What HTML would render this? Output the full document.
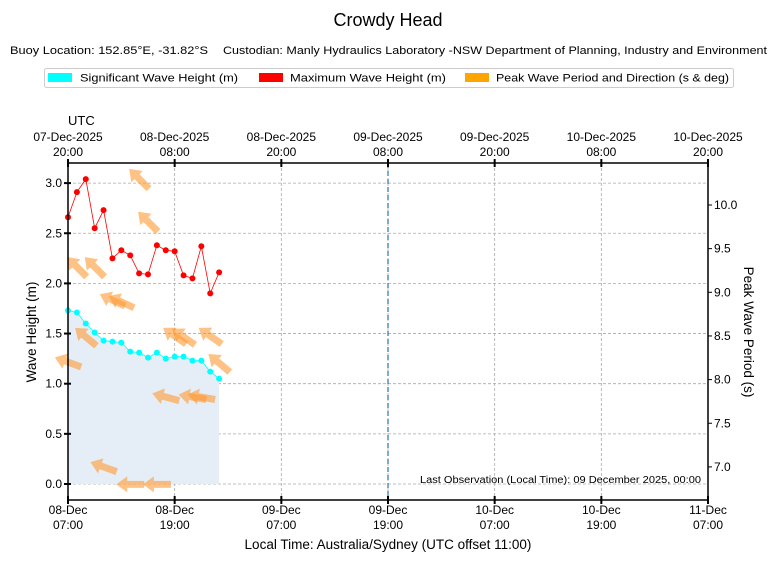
<!DOCTYPE html>
<html><head><meta charset="utf-8"><style>
html,body{margin:0;padding:0;background:#fff;}
svg{display:block;font-family:"Liberation Sans","DejaVu Sans",sans-serif;}
</style></head><body>
<svg id="chart" width="776" height="562" viewBox="0 0 776 562">
<text x="388" y="26" font-size="18" text-anchor="middle">Crowdy Head</text>
<text x="10" y="54" font-size="11" textLength="198" lengthAdjust="spacingAndGlyphs">Buoy Location: 152.85°E, -31.82°S</text>
<text x="223" y="54" font-size="11" textLength="544" lengthAdjust="spacingAndGlyphs">Custodian: Manly Hydraulics Laboratory -NSW Department of Planning, Industry and Environment</text>
<g>
<rect x="44.5" y="68.5" width="689" height="19" rx="2" fill="#fff" stroke="#ccc"/>
<g><rect x="48" y="73" width="24" height="9" fill="#00ffff"/><text x="80" y="81.5" font-size="11" textLength="158" lengthAdjust="spacingAndGlyphs">Significant Wave Height (m)</text></g>
<g><rect x="259" y="73" width="24" height="9" fill="#ff0000"/><text x="290" y="81.5" font-size="11" textLength="156" lengthAdjust="spacingAndGlyphs">Maximum Wave Height (m)</text></g>
<g><rect x="465" y="73" width="24" height="9" fill="#ffa500"/><text x="496" y="81.5" font-size="11" textLength="233" lengthAdjust="spacingAndGlyphs">Peak Wave Period and Direction (s &amp; deg)</text></g>
</g>
<text x="68" y="125" font-size="13">UTC</text>
<g id="grid"></g>
<g id="marks"></g>
<g id="axes"></g>
<text x="701" y="483" font-size="10" text-anchor="end" textLength="281" lengthAdjust="spacingAndGlyphs">Last Observation (Local Time): 09 December 2025, 00:00</text>
<text x="388" y="549" font-size="13.5" text-anchor="middle">Local Time: Australia/Sydney (UTC offset 11:00)</text>
<text transform="translate(36,332) rotate(-90)" font-size="13.5" text-anchor="middle">Wave Height (m)</text>
<text transform="translate(744,332) rotate(90)" font-size="13.5" text-anchor="middle">Peak Wave Period (s)</text>
</svg>
<script>
const hours = [0,1,2,3,4,5,6,7,8,9,10,11,12,13,14,15,16,17];
const hsValues = [1.73,1.71,1.60,1.51,1.43,1.42,1.41,1.32,1.31,1.26,1.31,1.25,1.27,1.27,1.23,1.23,1.12,1.05];
const hmaxValues = [2.66,2.91,3.04,2.55,2.73,2.25,2.33,2.28,2.10,2.09,2.38,2.33,2.32,2.08,2.05,2.37,1.90,2.11];
const tpValues = [8.20,9.29,8.49,9.29,7.00,8.91,8.89,6.80,10.30,9.81,6.80,7.80,8.50,8.49,7.80,7.80,8.50,8.19];
const dirValues = [110,135,130,135,110,115,115,90,135,135,90,105,125,125,100,100,125,130];
const heightTicks = [0,0.5,1.0,1.5,2.0,2.5,3.0];
const periodTicks = [7.0,7.5,8.0,8.5,9.0,9.5,10.0];
const xTickHours = [0,12,24,36,48,60,72];
const localLabels = [["08-Dec","07:00"],["08-Dec","19:00"],["09-Dec","07:00"],["09-Dec","19:00"],["10-Dec","07:00"],["10-Dec","19:00"],["11-Dec","07:00"]];
const utcLabels = [["07-Dec-2025","20:00"],["08-Dec-2025","08:00"],["08-Dec-2025","20:00"],["09-Dec-2025","08:00"],["09-Dec-2025","20:00"],["10-Dec-2025","08:00"],["10-Dec-2025","20:00"]];
const lastObsHour = 36;

const L=68,R=708,T=163,B=500;
const x = h => L + h*(R-L)/72;
const y = v => 484 - v*100.3;
const y2 = p => 205 + (10-p)*87.3;
const NS="http://www.w3.org/2000/svg";
function mk(tag, attrs, parent){const e=document.createElementNS(NS,tag);for(const k in attrs)e.setAttribute(k,attrs[k]);parent.appendChild(e);return e;}
const grid=document.getElementById('grid'), marks=document.getElementById('marks'), axes=document.getElementById('axes');

heightTicks.forEach(v=>{const g=mk('line',{x1:L,x2:R,y1:y(v),y2:y(v),stroke:'#aaa','stroke-dasharray':'3,2','stroke-width':0.8},grid);

});
xTickHours.forEach(h=>{const g=mk('line',{x1:x(h),x2:x(h),y1:T,y2:B,stroke:'#aaa','stroke-dasharray':'3,2','stroke-width':0.8},grid);

});

let d='M'+x(hours[0])+','+y(0);
hours.forEach((h,i)=>d+=' L'+x(h)+','+y(hsValues[i]));
d+=' L'+x(hours[hours.length-1])+','+y(0)+' Z';
const fill=mk('path',{d:d,fill:'#e5eef6'},marks);



hours.forEach((h,i)=>{
  const cx=x(h), cy=y2(tpValues[i]);
  const ang=(dirValues[i]+180)%360;
  const rad=ang*Math.PI/180;
  const svgAngle=Math.atan2(-Math.cos(rad),Math.sin(rad))*180/Math.PI;
  const a=mk('path',{d:'M-14,-3.5 L3,-3.5 L3,-8 L14,0 L3,8 L3,3.5 L-14,3.5 Z',fill:'#ff9933','fill-opacity':0.6,transform:'translate('+cx+','+cy+') rotate('+svgAngle+')'},marks);
  
  
});

const hmLine=mk('polyline',{points:hours.map((h,i)=>x(h)+','+y(hmaxValues[i])).join(' '),fill:'none',stroke:'#ff0000','stroke-width':0.8},marks);


hours.forEach((h,i)=>{const c=mk('circle',{cx:x(h),cy:y(hmaxValues[i]),r:3,fill:'#ff0000'},marks);

});
const hsLine=mk('polyline',{points:hours.map((h,i)=>x(h)+','+y(hsValues[i])).join(' '),fill:'none',stroke:'#00ffff','stroke-width':0.8},marks);


hours.forEach((h,i)=>{const c=mk('circle',{cx:x(h),cy:y(hsValues[i]),r:3,fill:'#00ffff'},marks);

});

const lo=mk('line',{x1:x(lastObsHour),x2:x(lastObsHour),y1:T,y2:B,stroke:'#1f77b4','stroke-dasharray':'5,3','stroke-width':1.2},marks);



const frame=mk('rect',{x:L,y:T,width:R-L,height:B-T,fill:'none',stroke:'#000','stroke-width':1.5},axes);



heightTicks.forEach(v=>{
  const t=mk('line',{x1:L-4,x2:L+3,y1:y(v),y2:y(v),stroke:'#000','stroke-width':2},axes);
  
  
  const l=mk('text',{x:L-6,y:y(v)+4,'font-size':12,'text-anchor':'end'},axes);l.textContent=v.toFixed(1);
  
  
});
periodTicks.forEach(p=>{
  const t=mk('line',{x1:R,x2:R+4,y1:y2(p),y2:y2(p),stroke:'#000','stroke-width':1},axes);
  
  
  const l=mk('text',{x:R+6,y:y2(p)+4,'font-size':12},axes);l.textContent=p.toFixed(1);
  
  
});
xTickHours.forEach((h,i)=>{
  const t=mk('line',{x1:x(h),x2:x(h),y1:B-4,y2:B+4,stroke:'#000','stroke-width':2},axes);
  
  
  const t2=mk('line',{x1:x(h),x2:x(h),y1:T-4,y2:T+4,stroke:'#000','stroke-width':2},axes);
  
  
  const l=mk('text',{x:x(h),y:514,'font-size':12,'text-anchor':'middle'},axes);l.textContent=localLabels[i][0];
  
  
  const l2=mk('text',{x:x(h),y:529,'font-size':12,'text-anchor':'middle'},axes);l2.textContent=localLabels[i][1];
  
  
  const u=mk('text',{x:x(h),y:141,'font-size':12,'text-anchor':'middle'},axes);u.textContent=utcLabels[i][0];
  
  
  const u2=mk('text',{x:x(h),y:156,'font-size':12,'text-anchor':'middle'},axes);u2.textContent=utcLabels[i][1];
  
  
});
</script>
</body></html>
